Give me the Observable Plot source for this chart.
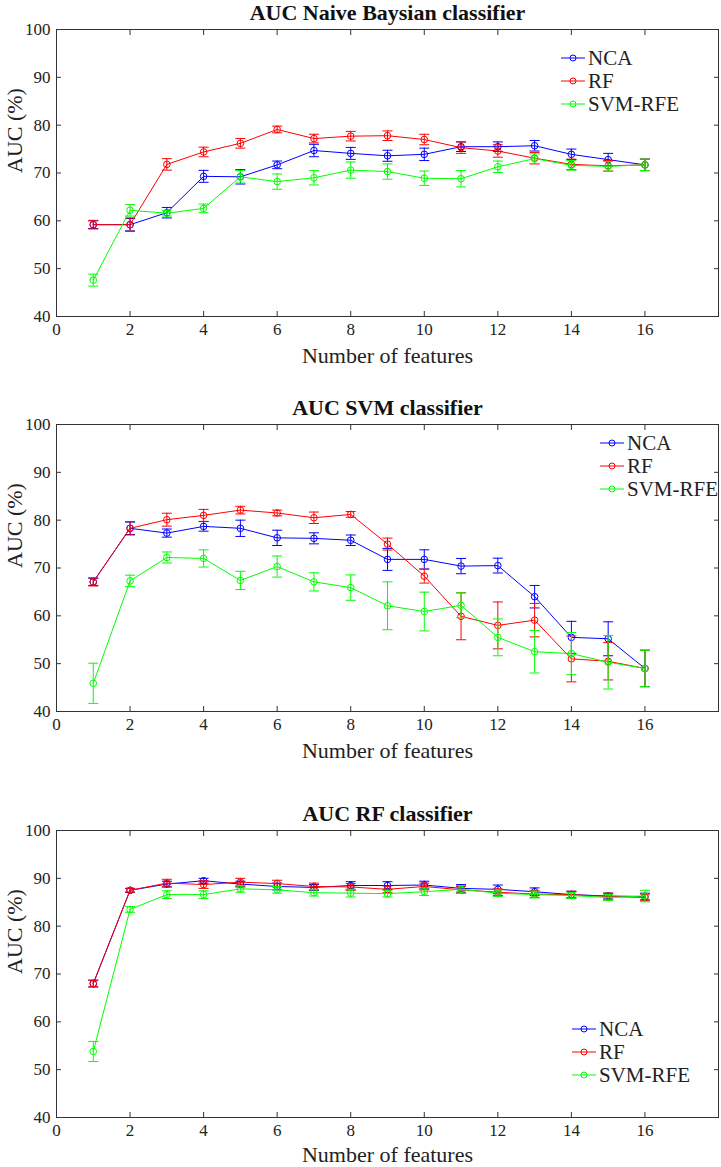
<!DOCTYPE html>
<html><head><meta charset="utf-8">
<script src="https://cdn.jsdelivr.net/npm/d3@7"></script>
<script src="https://cdn.jsdelivr.net/npm/@observablehq/plot@0.6"></script>
<style>body{margin:0;background:#fff} svg{display:block}</style>
</head><body><div id="root"></div>
<script>
const features = [1,2,3,4,5,6,7,8,9,10,11,12,13,14,15,16];
const methods = ["NCA","RF","SVM-RFE"];
const colors = ["#0000ff","#ff0000","#00ff00"];
const xTicks = [0,2,4,6,8,10,12,14,16];
const yTicks = [40,50,60,70,80,90,100];
const titles = ["AUC Naive Baysian classifier","AUC SVM classifier","AUC RF classifier"];
const xLabel = "Number of features";
const yLabel = "AUC (%)";

// Naive Bayes panel
const nbNCA = [59.2,59.2,61.7,69.3,69.2,71.7,74.7,74.1,73.6,73.9,75.5,75.5,75.7,73.9,72.8,71.7];
const nbNCAerr = [0.8,1.3,1.1,1.25,1.5,0.8,1.3,1.25,1.15,1.3,1.0,1.0,1.1,1.1,1.3,1.2];
const nbRF = [59.2,59.2,71.8,74.4,76.2,79.1,77.2,77.7,77.8,77.0,75.3,74.6,73.1,71.8,71.5,71.7];
const nbRFerr = [0.9,1.4,1.2,1.0,1.0,0.7,0.9,1.0,1.0,1.1,1.2,1.3,1.2,1.1,1.1,1.2];
const nbSVM = [47.6,62.2,61.6,62.6,69.2,68.2,69.0,70.6,70.3,68.9,68.8,71.3,73.0,71.6,71.4,71.7];
const nbSVMerr = [1.25,1.2,0.6,0.9,1.3,1.6,1.5,1.7,1.6,1.5,1.7,1.2,1.0,1.0,1.0,1.2];

// SVM panel
const svNCA = [67.1,78.3,77.3,78.7,78.3,76.3,76.2,75.8,71.8,71.8,70.4,70.5,64.0,55.5,55.2,49.0];
const svNCAerr = [0.75,1.3,0.85,1.0,1.7,1.6,1.15,1.1,2.3,2.0,1.6,1.55,2.35,3.35,3.55,3.8];
const svRF = [67.1,78.3,80.1,81.0,82.1,81.5,80.5,81.2,75.0,68.3,59.9,58.0,59.1,51.0,50.5,49.0];
const svRFerr = [0.85,1.4,1.35,1.25,0.8,0.6,1.2,0.6,1.25,1.45,4.9,4.9,3.5,4.8,3.9,3.8];
const svSVM = [45.9,67.3,72.2,72.0,67.4,70.3,67.1,65.9,62.1,60.9,62.2,55.5,52.5,52.1,50.3,49.0];
const svSVMerr = [4.2,1.2,1.15,1.8,1.9,2.2,1.9,2.65,5.0,4.05,2.6,3.85,4.45,4.4,5.6,3.8];

// RF panel
const rfNCA = [68.0,87.5,88.8,89.5,88.8,88.3,88.1,88.5,88.5,88.6,87.9,87.7,87.2,86.6,86.3,86.2];
const rfNCAerr = [0.7,0.4,0.6,0.5,0.6,0.7,0.6,0.8,0.8,0.8,0.8,0.9,0.8,0.7,0.6,0.7];
const rfRF = [68.0,87.5,89.0,88.7,89.2,88.9,88.3,88.2,87.7,88.3,87.6,87.1,86.7,86.6,86.2,86.0];
const rfRFerr = [0.7,0.4,0.8,0.8,0.8,0.7,0.7,0.7,0.7,0.7,0.7,0.7,0.7,0.7,0.7,0.7];
const rfSVM = [53.8,83.5,86.6,86.6,87.8,87.6,87.0,86.9,86.8,87.2,87.7,86.9,86.6,86.4,86.0,86.3];
const rfSVMerr = [2.1,0.6,0.8,0.8,0.7,0.7,0.7,0.8,0.7,0.8,0.8,0.7,0.7,0.6,0.6,1.2];

const FONT = '"Liberation Serif","Times New Roman",Times,serif';
const PLOT_H = 287;

const panels = [
  {title: titles[0], series: [[nbNCA,nbNCAerr],[nbRF,nbRFerr],[nbSVM,nbSVMerr]], height: 395, legend: [561, 58], labelDy: 39},
  {title: titles[1], series: [[svNCA,svNCAerr],[svRF,svRFerr],[svSVM,svSVMerr]], height: 406, legend: [600, 48], labelDy: 39},
  {title: titles[2], series: [[rfNCA,rfNCAerr],[rfRF,rfRFerr],[rfSVM,rfSVMerr]], height: 366, legend: [572, 228], labelDy: 37}
];

const cap = {draw(ctx){ ctx.moveTo(-5,0); ctx.lineTo(5,0); }};

function makePanel(p) {
  const marks = [];
  marks.push(Plot.frame({stroke:"#333", strokeWidth:1}));
  marks.push(Plot.axisX(xTicks, {anchor:"bottom", tickSize:5, dy:-5, text:null, stroke:"#333"}));
  marks.push(Plot.axisX(xTicks, {anchor:"top", tickSize:5, dy:5, text:null, stroke:"#333"}));
  marks.push(Plot.axisY(yTicks, {anchor:"left", tickSize:5, dx:5, text:null, stroke:"#333"}));
  marks.push(Plot.axisY(yTicks, {anchor:"right", tickSize:5, dx:-5, text:null, stroke:"#333"}));
  marks.push(Plot.axisX(xTicks, {anchor:"bottom", tickSize:0, tickPadding:6, fontSize:17, fontFamily:FONT, fill:"#222", label:null}));
  marks.push(Plot.axisY(yTicks, {anchor:"left", tickSize:0, tickPadding:6, fontSize:17, fontFamily:FONT, fill:"#222", label:null}));
  p.series.forEach(([mean, err], i) => {
    const d = features.map((f, j) => ({x: f, y: mean[j], e: err[j], method: methods[i]}));
    const c = colors[i];
    marks.push(Plot.ruleX(d, {x:"x", y1: r => r.y - r.e, y2: r => r.y + r.e, stroke: c, strokeWidth:1}));
    marks.push(Plot.dot(d, {x:"x", y: r => r.y - r.e, symbol: cap, stroke: c, fill:"none", strokeWidth:1}));
    marks.push(Plot.dot(d, {x:"x", y: r => r.y + r.e, symbol: cap, stroke: c, fill:"none", strokeWidth:1}));
    marks.push(Plot.line(d, {x:"x", y:"y", stroke: c, strokeWidth:1}));
    marks.push(Plot.dot(d, {x:"x", y:"y", r:3.3, stroke: c, fill:"none", strokeWidth:1}));
  });
  marks.push(Plot.text([p.title], {frameAnchor:"top", lineAnchor:"middle", dy:-17, fontWeight:"bold", fontSize:22, fontFamily:FONT, fill:"#111"}));
  marks.push(Plot.text([xLabel], {frameAnchor:"bottom", lineAnchor:"middle", dy:p.labelDy, fontSize:22, fontFamily:FONT, fill:"#222"}));
  marks.push(Plot.text([yLabel], {frameAnchor:"left", lineAnchor:"middle", dx:-42, rotate:-90, fontSize:22, fontFamily:FONT, fill:"#222"}));

  const chart = Plot.plot({
    width: 721, height: p.height,
    marginTop: 29, marginLeft: 56, marginRight: 3, marginBottom: p.height - 29 - PLOT_H,
    style: {fontFamily: FONT, background: "#fff", overflow: "visible"},
    x: {domain: [0, 18], label: null, axis: null},
    y: {domain: [40, 100], label: null, axis: null},
    marks
  });

  const svg = d3.select(chart);
  const [lx, ly] = p.legend;
  const g = svg.append("g").attr("font-family", FONT).attr("font-size", 21).attr("text-anchor", "start");
  methods.forEach((m, i) => {
    const y = ly + i * 23;
    g.append("line").attr("x1", lx).attr("x2", lx + 24).attr("y1", y).attr("y2", y).attr("stroke", colors[i]).attr("stroke-width", 1);
    g.append("circle").attr("cx", lx + 12).attr("cy", y).attr("r", 3).attr("fill", "none").attr("stroke", colors[i]);
    g.append("text").attr("x", lx + 27).attr("y", y).attr("dy", "0.35em").attr("fill", "#222").attr("text-anchor", "start").text(m);
  });
  return chart;
}

const root = document.getElementById("root");
panels.forEach(p => root.appendChild(makePanel(p)));
</script>
</body></html>
